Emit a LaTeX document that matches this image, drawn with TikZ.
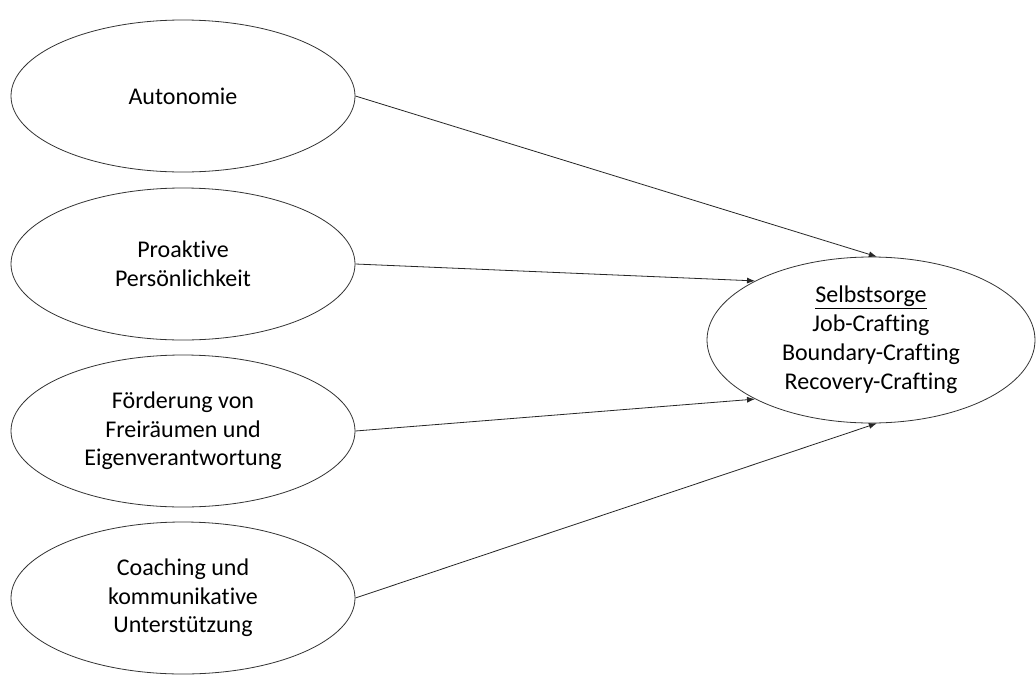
\documentclass[tikz,border=0pt]{standalone}
\usepackage{fontspec}
\setmainfont[Ligatures={NoCommon}]{Carlito}
\usetikzlibrary{shapes.geometric,arrows.meta}
\begin{document}
\begin{tikzpicture}[x=1pt,y=1pt,
  factor/.style={ellipse,draw=black!80,line width=0.8pt,minimum width=344pt,minimum height=152pt,inner sep=0pt,align=center,font=\fontsize{24}{28.6}\selectfont},
  outcome/.style={ellipse,draw=black!80,line width=0.8pt,minimum width=328pt,minimum height=166pt,inner sep=0pt,align=center,font=\fontsize{24}{29}\selectfont},
  link/.style={draw=black!85,line width=0.8pt,-{Latex[length=8pt,width=6pt]}}]
\useasboundingbox[fill=white] (0,0) rectangle (1036,-675);

\node[factor] (auto) at (183,-96) {Autonomie};
\node[factor] (pro) at (183,-264) {Proaktive\\Persönlichkeit};
\node[factor] (foe) at (183,-431) {Förderung von\\Freiräumen und\\Eigenverantwortung};
\node[factor] (coach) at (183,-598) {Coaching und\\kommunikative\\Unterstützung};

\node[outcome] (self) at (871,-340) {\underline{Selbstsorge}\\Job-Crafting\\Boundary-Crafting\\Recovery-Crafting};

\draw[link] (auto.east) -- (self.86);
\draw[link] (pro.east) -- (self.153);
\draw[link] (foe.east) -- (self.207);
\draw[link] (coach.east) -- (self.274);
\end{tikzpicture}
\end{document}
